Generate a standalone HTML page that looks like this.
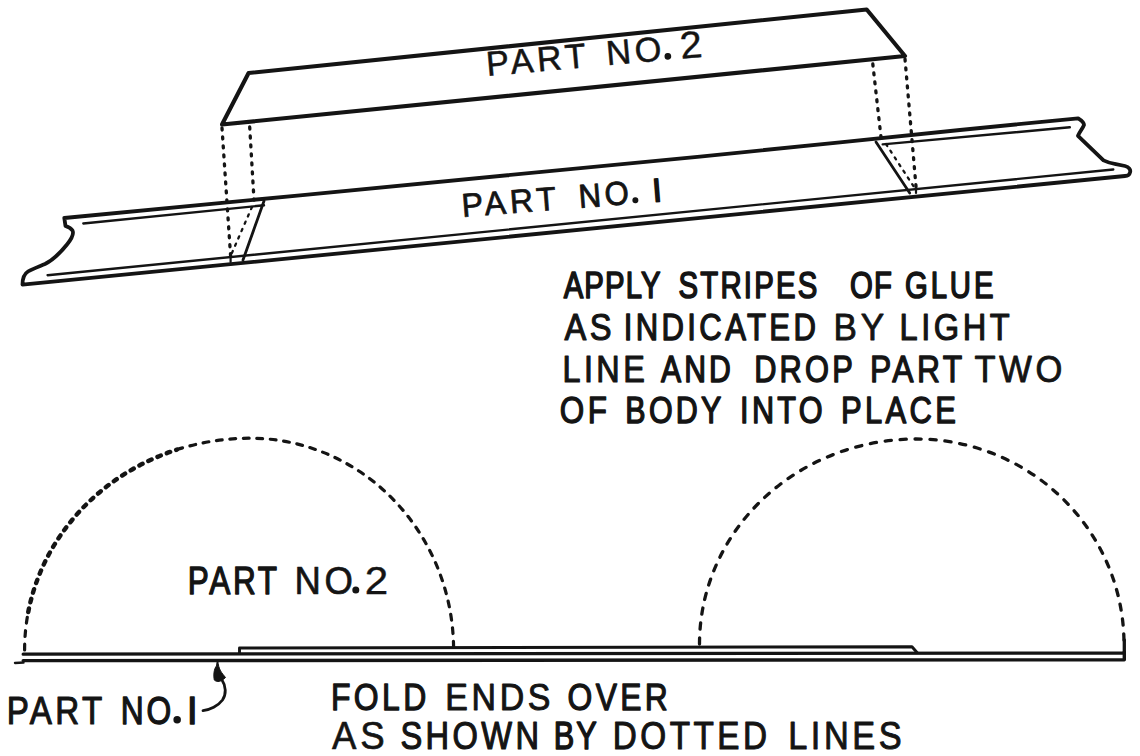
<!DOCTYPE html>
<html><head><meta charset="utf-8">
<style>
html,body{margin:0;padding:0;background:#fff;}
body{width:1140px;height:756px;overflow:hidden;}
svg{display:block;}
text{font-family:"Liberation Sans",sans-serif;fill:#141414;stroke:#141414;stroke-linejoin:round;}
</style></head>
<body>
<svg width="1140" height="756" viewBox="0 0 1140 756">
<rect width="1140" height="756" fill="#fff"/>
<g fill="none" stroke="#141414" stroke-linecap="round" stroke-linejoin="round">
  <!-- PART 2 box top -->
  <path d="M222,124.5 L248.6,73 L866.7,9.5 L905,56 Z" stroke-width="4.1"/>
  <!-- dotted verticals -->
  <g stroke-width="3.3" stroke-dasharray="2 7">
    <path d="M222,128 L230.6,256"/>
    <path d="M249.7,127 L254,200"/>
    <path d="M872.8,64 L881.2,139"/>
    <path d="M905,59 L916.4,191"/>
  </g>
  <g stroke-width="2.3" stroke-dasharray="2.3 5.7">
    <path d="M252,207 L230.6,256"/>
    <path d="M886,144 L915.3,189"/>
  </g>
  <!-- PART 1 strip outer outline -->
  <path d="M64.3,218 L300,195.3 L700,156.6 L840,142.3 L960,130 L1078.2,118.3 C1081,120 1084,122 1084,125 C1083,128 1080,131 1078,135.8 L1103.5,160.4 C1108,162.5 1111,163.5 1114.7,163.9 L1125,166 C1129,167 1131,170 1130,172.5 C1129.5,175 1128,176 1125,176 L22.5,284.6 C22.5,279 24,274 28,271.5 C33,268.5 39,266.5 45,264 C53,260 61,252 67,244.5 C71,239.5 74.5,234.5 72.5,230.5 C71,228 68.5,227 65.5,226 L64.3,218 Z" stroke-width="3.8"/>
  <!-- inner top lines (flanges) -->
  <path d="M83.3,223.5 L264,205.3" stroke-width="2.4"/>
  <path d="M882.7,144.4 L1069.8,127.3" stroke-width="2.4"/>
  <!-- inner bottom line -->
  <path d="M47.6,275.2 L1113.3,169.5" stroke-width="2.4"/>
  <!-- solid diagonals -->
  <path d="M264,201 L243,260" stroke-width="2.8"/>
  <path d="M876,142 L909.7,193" stroke-width="2.8"/>
  <path d="M230.6,256 L230.6,262" stroke-width="2.2"/>
  <path d="M916,187 L916,193" stroke-width="2.2"/>

  <!-- bottom strip -->
  <path d="M23.2,654.2 L1124.3,653 L1124.3,640" stroke-width="3.3"/>
  <path d="M23.2,660.6 L1124.3,659.8 L1124.3,652" stroke-width="3.4"/>
  <path d="M15,663 L23.5,662.5" stroke-width="2.4"/>
  <path d="M239.5,653 L239.5,648 L912,646.8 L917,652.5" stroke-width="2.9"/>
  <!-- dashed semicircles -->
  <path d="M24.6,650 A225.4,211.8 0 0 1 28.25,612" stroke-width="3.2" stroke-dasharray="5.8 7.7"/>
  <path d="M28.25,612 A225.4,211.8 0 0 1 177,449.6" stroke-width="4.4" stroke-dasharray="3.6 6.4"/>
  <path d="M177,449.6 A225.4,211.8 0 0 1 250,438.2 A203.6,211.8 0 0 1 453.6,650" stroke-width="3.2" stroke-dasharray="5.8 7.7"/>
  <path d="M699.5,644 A216.5,205 0 0 1 916,439 A208,205 0 0 1 1124,644" stroke-width="3.3" stroke-dasharray="6.2 8.8"/>
</g>
<!-- arrow -->
<path d="M217.3,660.5 L216.5,666 C214,668.5 213.3,675 214.3,680 C217,682.5 221,682 225.5,677.5 C222,673 218.5,670 217.8,660.5 Z" fill="#141414" stroke="#141414" stroke-width="1"/>
<path d="M222,680 C226,686 226.5,694 222.5,700 C218,706 210,710 203,710.6" fill="none" stroke="#141414" stroke-width="2.8" stroke-linecap="round"/>

<text font-size="36.63" letter-spacing="1.405" stroke-width="1.63" transform="translate(563.65,297.80) scale(0.8000,1)">APPLY</text>
<text font-size="36.63" letter-spacing="2.812" stroke-width="1.63" transform="translate(678.45,297.80) scale(0.8000,1)">STRIPES</text>
<text font-size="36.63" letter-spacing="1.495" stroke-width="1.63" transform="translate(849.95,297.80) scale(0.8000,1)">OF</text>
<text font-size="36.63" letter-spacing="3.582" stroke-width="1.63" transform="translate(905.05,297.80) scale(0.8000,1)">GLUE</text>
<text font-size="36.63" letter-spacing="4.000" stroke-width="1.11" transform="translate(564.50,340.00) scale(0.8923,1)">AS</text>
<text font-size="36.63" letter-spacing="4.000" stroke-width="1.35" transform="translate(623.63,340.00) scale(0.8480,1)">INDICATED</text>
<text font-size="36.63" letter-spacing="4.000" stroke-width="0.81" transform="translate(833.51,340.00) scale(0.9577,1)">BY</text>
<text font-size="36.63" letter-spacing="4.000" stroke-width="1.12" transform="translate(899.43,340.00) scale(0.8909,1)">LIGHT</text>
<text font-size="37.65" letter-spacing="4.000" stroke-width="1.19" transform="translate(562.43,382.10) scale(0.8602,1)">LINE</text>
<text font-size="37.65" letter-spacing="3.919" stroke-width="1.54" transform="translate(661.01,382.10) scale(0.8000,1)">AND</text>
<text font-size="37.65" letter-spacing="4.000" stroke-width="1.43" transform="translate(754.13,382.10) scale(0.8175,1)">DROP</text>
<text font-size="37.65" letter-spacing="4.000" stroke-width="1.26" transform="translate(869.99,382.10) scale(0.8470,1)">PART</text>
<text font-size="37.65" letter-spacing="4.000" stroke-width="0.90" transform="translate(974.50,382.10) scale(0.9158,1)">TWO</text>
<text font-size="37.21" letter-spacing="4.000" stroke-width="1.32" transform="translate(559.87,423.00) scale(0.8440,1)">OF</text>
<text font-size="37.21" letter-spacing="4.000" stroke-width="1.47" transform="translate(625.35,423.00) scale(0.8177,1)">BODY</text>
<text font-size="37.21" letter-spacing="4.000" stroke-width="1.43" transform="translate(740.12,423.00) scale(0.8244,1)">INTO</text>
<text font-size="37.21" letter-spacing="4.000" stroke-width="1.38" transform="translate(841.08,423.00) scale(0.8325,1)">PLACE</text>
<text font-size="39.39" letter-spacing="3.416" stroke-width="1.38" transform="translate(187.75,593.80) scale(0.8000,1)">PART</text>
<text font-size="39.39" letter-spacing="4.000" stroke-width="0.69" transform="translate(294.54,593.80) scale(0.9269,1)">NO</text>
<circle cx="355.80" cy="590.10" r="3.50" fill="#141414"/>
<text font-size="39.39" letter-spacing="0.000" stroke-width="0.40" transform="translate(364.87,593.80) scale(1.0707,1)">2</text>
<text font-size="39.68" letter-spacing="4.000" stroke-width="1.13" transform="translate(6.76,723.80) scale(0.8369,1)">PART</text>
<text font-size="39.68" letter-spacing="3.776" stroke-width="1.35" transform="translate(120.64,723.80) scale(0.8000,1)">NO</text>
<circle cx="177.15" cy="719.85" r="3.75" fill="#141414"/>
<text font-size="39.68" letter-spacing="0.000" stroke-width="1.30" transform="translate(186.65,723.80) scale(1.0000,1)">I</text>
<text font-size="37.79" letter-spacing="4.000" stroke-width="1.26" transform="translate(331.00,709.80) scale(0.8448,1)">FOLD</text>
<text font-size="37.79" letter-spacing="4.000" stroke-width="0.98" transform="translate(445.35,709.80) scale(0.8975,1)">ENDS</text>
<text font-size="37.79" letter-spacing="4.000" stroke-width="1.27" transform="translate(567.55,709.80) scale(0.8420,1)">OVER</text>
<text font-size="38.37" letter-spacing="4.000" stroke-width="0.66" transform="translate(332.12,749.00) scale(0.9541,1)">AS</text>
<text font-size="38.37" letter-spacing="4.000" stroke-width="1.17" transform="translate(400.40,749.00) scale(0.8507,1)">SHOWN</text>
<text font-size="38.37" letter-spacing="2.530" stroke-width="1.47" transform="translate(553.69,749.00) scale(0.8000,1)">BY</text>
<text font-size="38.37" letter-spacing="4.000" stroke-width="1.08" transform="translate(612.87,749.00) scale(0.8674,1)">DOTTED</text>
<text font-size="38.37" letter-spacing="4.000" stroke-width="0.94" transform="translate(788.13,749.00) scale(0.8956,1)">LINES</text>
<g transform="translate(490.00,76.40) rotate(-5.10)"><text font-size="34.59" letter-spacing="4.000" stroke-width="0.55" transform="translate(-2.70,-0.60) scale(0.9902,1)">PART</text><text font-size="34.59" letter-spacing="4.000" stroke-width="0.55" transform="translate(117.70,-0.60) scale(0.9913,1)">NO</text><circle cx="178.95" cy="-4.15" r="3.35" fill="#141414"/><text font-size="37.79" letter-spacing="0.000" stroke-width="0.40" transform="translate(191.90,-0.60) scale(1.0575,1)">2</text></g>
<g transform="translate(465.00,217.50) rotate(-4.50)"><text font-size="33.14" letter-spacing="4.000" stroke-width="0.75" transform="translate(-2.55,-0.60) scale(0.9730,1)">PART</text><text font-size="33.14" letter-spacing="4.000" stroke-width="0.91" transform="translate(114.92,-0.60) scale(0.9358,1)">NO</text><circle cx="171.20" cy="-3.80" r="3.00" fill="#141414"/><text font-size="33.14" letter-spacing="0.000" stroke-width="1.60" transform="translate(188.80,-0.60) scale(1.0000,1)">I</text></g>
</svg>
</body></html>
